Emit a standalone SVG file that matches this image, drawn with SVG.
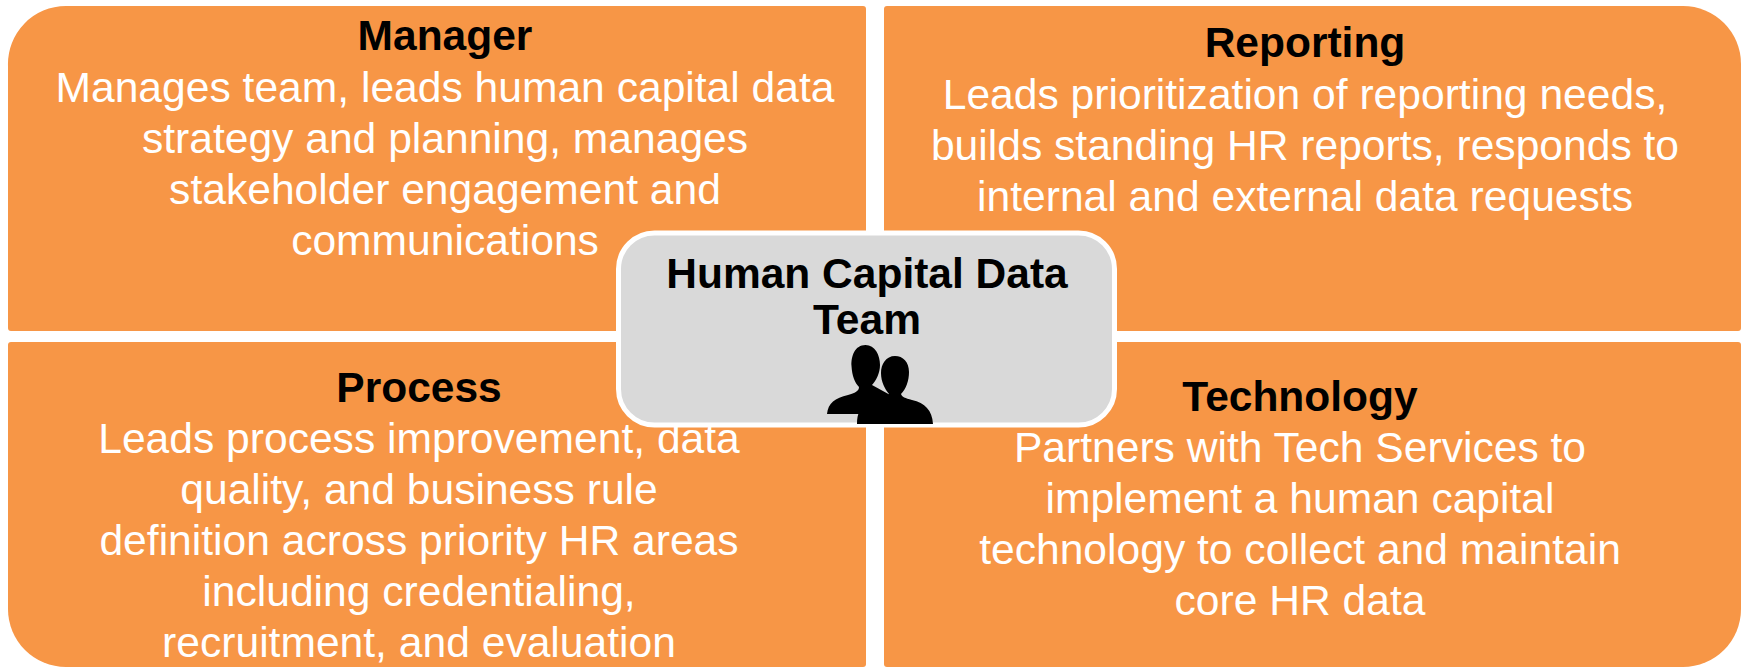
<svg xmlns="http://www.w3.org/2000/svg" width="1745" height="667" viewBox="0 0 1745 667">
<style>
.p{fill:#f79646}
.b{font:42.6px "Liberation Sans",Arial,sans-serif;fill:#fff;text-anchor:middle}
.t{font:bold 42.5px "Liberation Sans",Arial,sans-serif;fill:#000;text-anchor:middle}
</style>
<rect width="1745" height="667" fill="#fff"/>
<g id="manager">
<path class="p" d="M8 66A58 58 0 0 1 66 6H863Q866 6 866 9V328Q866 331 863 331H11Q8 331 8 328Z"/>
<text class="t" x="445" y="50">Manager</text>
<text class="b" x="445" y="102">Manages team, leads human capital data</text>
<text class="b" x="445" y="153">strategy and planning, manages</text>
<text class="b" x="445" y="204">stakeholder engagement and</text>
<text class="b" x="445" y="255">communications</text>
</g>
<g id="reporting">
<path class="p" d="M884 9Q884 6 887 6H1683A58 58 0 0 1 1741 64V328Q1741 331 1738 331H887Q884 331 884 328Z"/>
<text class="t" x="1305" y="57">Reporting</text>
<text class="b" x="1305" y="109">Leads prioritization of reporting needs,</text>
<text class="b" x="1305" y="160">builds standing HR reports, responds to</text>
<text class="b" x="1305" y="211">internal and external data requests</text>
</g>
<g id="process">
<path class="p" d="M11 342H863Q866 342 866 345V664Q866 667 863 667H66A58 58 0 0 1 8 609V345Q8 342 11 342Z"/>
<text class="t" x="419" y="402">Process</text>
<text class="b" x="419" y="453">Leads process improvement, data</text>
<text class="b" x="419" y="504">quality, and business rule</text>
<text class="b" x="419" y="555">definition across priority HR areas</text>
<text class="b" x="419" y="606">including credentialing,</text>
<text class="b" x="419" y="657">recruitment, and evaluation</text>
</g>
<g id="technology">
<path class="p" d="M887 342H1738Q1741 342 1741 345V609A58 58 0 0 1 1683 667H887Q884 667 884 664V345Q884 342 887 342Z"/>
<text class="t" x="1300" y="411">Technology</text>
<text class="b" x="1300" y="462">Partners with Tech Services to</text>
<text class="b" x="1300" y="513">implement a human capital</text>
<text class="b" x="1300" y="564">technology to collect and maintain</text>
<text class="b" x="1300" y="615">core HR data</text>
</g>
<g id="team">
<rect x="618.5" y="233" width="496" height="192" rx="36" fill="#d9d9d9" stroke="#fff" stroke-width="5"/>
<text class="t" x="867" y="288">Human Capital Data</text>
<text class="t" x="867" y="334">Team</text>
<path fill="#000" d="M865.5 345C855 345 851 356 851.5 366C852 376 855 383 859 387C859 391 855 393 848 395C835 398 828 403 827 414H880V400L892 396L872 385C876 381 880 373 880 365C880 355 875 345 865.5 345Z"/>
<path fill="#000" d="M895 356C886 356 881 364 881 373C881 382 885 389 889 394C888 397 880 399 870 402C860 405 857 414 857 424H933C932 410 925 403 912 400C905 398 902 397 901 394C906 389 909 381 909 372C909 362 903 356 895 356Z"/>
</g>
<g id="connectors"></g>
</svg>
